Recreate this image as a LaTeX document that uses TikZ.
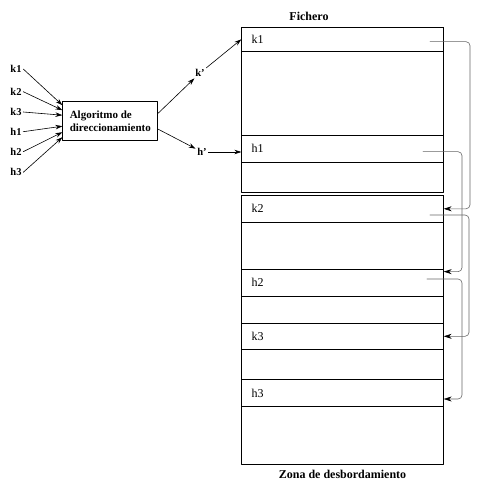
\documentclass[tikz,border=0pt]{standalone}
\usepackage{fontspec}
\setmainfont{Liberation Serif}
\usetikzlibrary{arrows.meta}
\begin{document}
\begin{tikzpicture}[x=1pt,y=-1pt,line join=round,line cap=round,>={Stealth[length=7pt,width=4.5pt]},
	clave/.style={font=\fontsize{10.5}{12}\selectfont\bfseries,inner sep=1.5pt},
	fila/.style={draw,line width=0.7pt,text width=181.6pt,inner xsep=10pt,inner ysep=0pt,align=left,font=\fontsize{12}{14}\selectfont},
	enlace/.style={-{Stealth[length=8pt,width=5pt,black]},gray!80!black,line width=0.6pt,rounded corners=4pt}]
	\useasboundingbox (0,0) rectangle (493,497);
	% claves de entrada
	\node[clave] (k1) at (16,69) {k1};
	\node[clave] (k2) at (16,91.7) {k2};
	\node[clave] (k3) at (16,112) {k3};
	\node[clave] (h1) at (16,131.7) {h1};
	\node[clave] (h2) at (16,151.7) {h2};
	\node[clave] (h3) at (16,172.3) {h3};
	\node[draw,line width=0.7pt,minimum width=94pt,minimum height=39pt,align=left,inner xsep=7pt,
		font=\fontsize{11}{13}\selectfont\bfseries] (alg) at (110.3,121.2) {Algoritmo de\\direccionamiento};
	\foreach \n/\d in {k1/16,k2/11,k3/6,h1/-5,h2/-11,h3/-16}
	\draw[->,line width=0.6pt] (\n.east)--([yshift=\d pt]alg.west);
	\node[clave] (kp) at (200,73) {k'};
	\node[clave] (hp) at (202,152) {h'};
	\draw[->,line width=0.6pt] ([yshift=8pt]alg.east)--(kp);
	\draw[->,line width=0.6pt] ([yshift=-8pt]alg.east)--(hp);
	% fichero y zona de desbordamiento
	\draw[line width=0.7pt] (241.7,27.3) rectangle (443.3,192.3);
	\draw[line width=0.7pt] (241.7,195.3) rectangle (443.3,464);
	\node[fila,minimum height=24pt] (fk1) at (342.5,39.3) {k1};
	\node[fila,minimum height=27pt] (fh1) at (342.5,148.8) {h1};
	\node[fila,minimum height=27pt] (fk2) at (342.5,208.8) {k2};
	\node[fila,minimum height=27pt] (fh2) at (342.5,282.5) {h2};
	\node[fila,minimum height=26pt] (fk3) at (342.5,336.3) {k3};
	\node[fila,minimum height=27.4pt] (fh3) at (342.5,393) {h3};
	\node[font=\fontsize{12}{14}\selectfont\bfseries] (fich) at (309,16.7) {Fichero};
	\node[font=\fontsize{12}{14}\selectfont\bfseries] (zona) at (342.5,474) {Zona de desbordamiento};
	\draw[->,line width=0.6pt] (kp)--(fk1.west);
	\draw[->,line width=0.6pt] (hp)--(hp -| fh1.west);
	% encadenamiento
	\coordinate (sk1) at (430,41.7);
	\coordinate (sh1) at (423,151.7);
	\coordinate (sk2) at (430,215);
	\coordinate (sh2) at (427,279);
	\draw[enlace] (sk1)--(470,41.7)|-(fk2.east);
	\draw[enlace] (sh1)--(462,151.7)|-([yshift=-3pt]fh2.north east);
	\draw[enlace] (sk2)--(469,215)|-(fk3.east);
	\draw[enlace] (sh2)--(462,279)|-([yshift=-6pt]fh3.east);
\end{tikzpicture}
\end{document}
